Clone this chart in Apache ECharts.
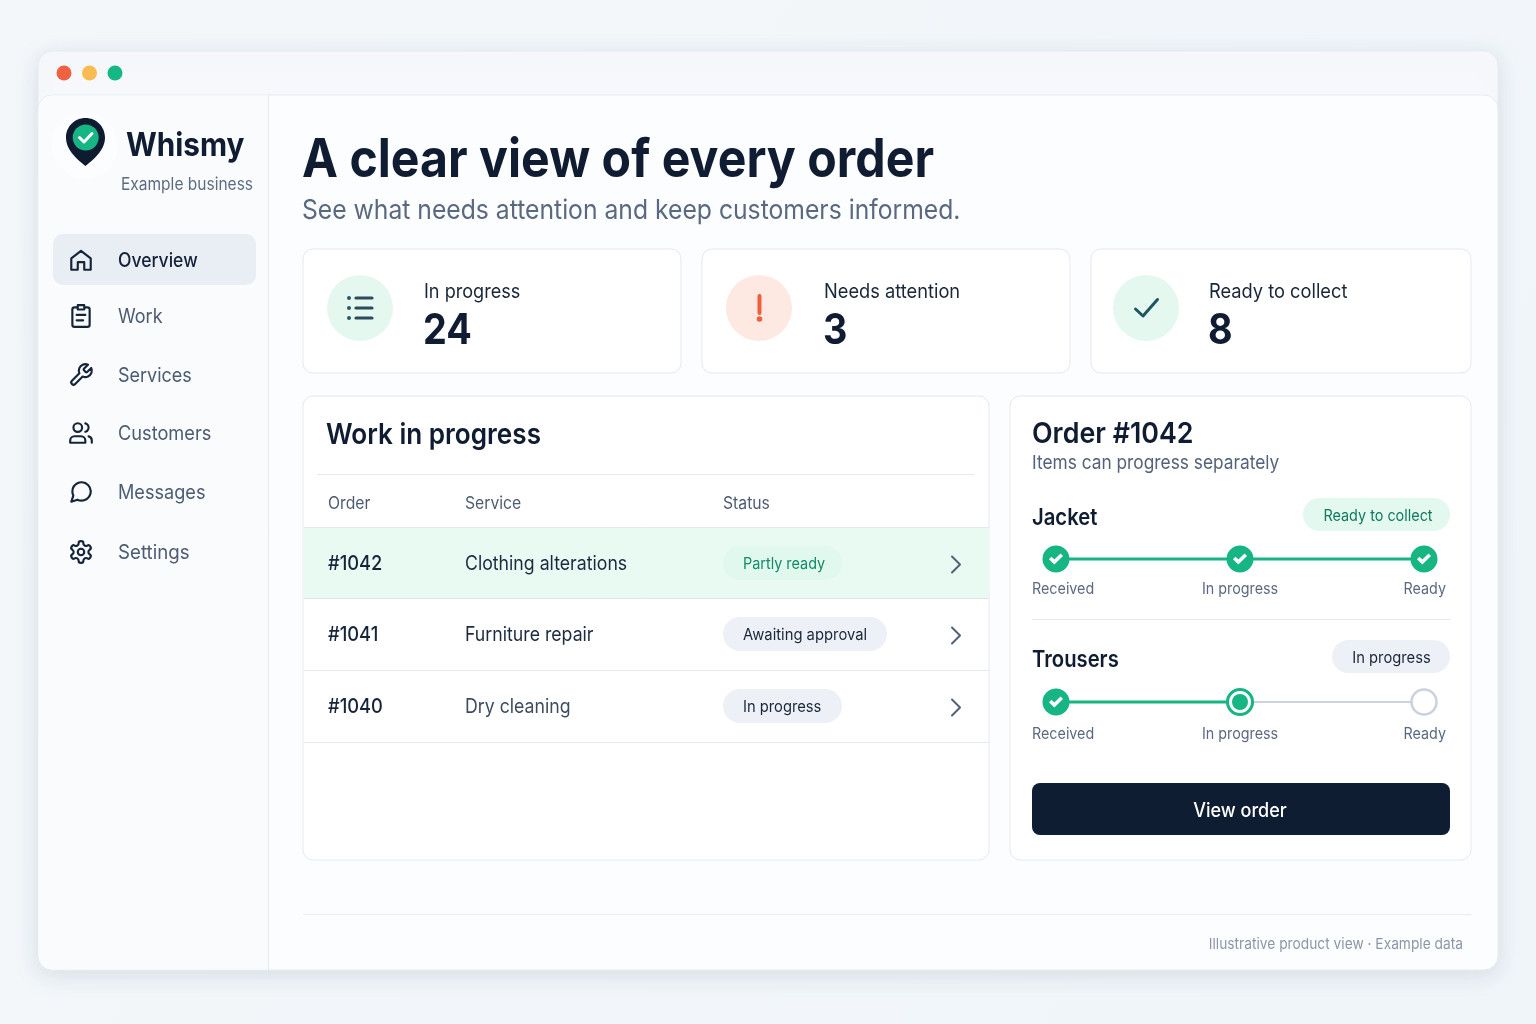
<!DOCTYPE html>
<html>
<head>
    <meta charset="utf-8">
    <title>Whismy</title>
    <style type="text/css">
        html,body{margin:0;padding:0;background:#f2f6fa;}
        #chart{width:1536px;height:1024px;}
    </style>
</head>
<body>
    <div id="chart"></div>
    <script src="https://cdn.jsdelivr.net/npm/echarts@6/dist/echarts.min.js" charset="utf-8"></script>
    <script type="text/javascript">
        // data
        var navItems = ['Overview','Work','Services','Customers','Messages','Settings'];
        var statLabels = ['In progress','Needs attention','Ready to collect'];
        var statValues = [24,3,8];
        var tableHeaders = ['Order','Service','Status'];
        var orderIds = ['#1042','#1041','#1040'];
        var orderServices = ['Clothing alterations','Furniture repair','Dry cleaning'];
        var orderStatuses = ['Partly ready','Awaiting approval','In progress'];
        var stepLabels = ['Received','In progress','Ready'];
        var stepPositions = [0,1,2];
        var jacketSteps = ['done','done','done'];
        var trouserSteps = ['done','active','todo'];

        var FONT = 'Inter, "Noto Sans", sans-serif';
        var INK = '#0f1c31', SLATE = '#4d5c73', GREEN = '#17b484';
        var LINE = '#e3e9f1';
        var els = [];
        var pathCount = 0;

        // graphic has no plain path type, so each svg path gets its own shape class
        function pathShape(d){
            var name = 'svgPath' + (pathCount++);
            echarts.graphic.registerShape(name,echarts.graphic.extendPath(d,{}));
            return name;
        }
        function rect(x,y,w,h,r,fill,stroke,extra){
            var style = {fill:fill,stroke:stroke||null,lineWidth:stroke?1:0};
            for(var k in extra){style[k]=extra[k];}
            els.push({type:'rect',silent:true,shape:{x:x,y:y,width:w,height:h,r:r},style:style});
        }
        // the reference type is set tighter than Inter, squeeze is the horizontal factor
        function txt(s,x,y,size,weight,color,align,squeeze){
            els.push({type:'text',silent:true,x:x,y:y,scaleX:squeeze||0.905,style:{text:s,x:0,y:0,fill:color,
                font:weight+' '+size+'px '+FONT,textAlign:align||'left',textVerticalAlign:'middle'}});
        }
        function hline(x1,x2,y,color){
            els.push({type:'line',silent:true,shape:{x1:x1,y1:y,x2:x2,y2:y},style:{stroke:color||LINE,lineWidth:1}});
        }
        function circle(x,y,r,fill){
            els.push({type:'circle',silent:true,shape:{cx:x,cy:y,r:r},style:{fill:fill}});
        }
        function icon(d,cx,cy,scale,color,width){
            els.push({type:pathShape(d),silent:true,x:cx-12*scale,y:cy-12*scale,scaleX:scale,scaleY:scale,
                style:{fill:'none',stroke:color,lineWidth:width,lineCap:'round',lineJoin:'round'}});
        }
        function poly(points,color,width){
            els.push({type:'polyline',silent:true,shape:{points:points},
                style:{fill:'none',stroke:color,lineWidth:width,lineCap:'round',lineJoin:'round'}});
        }

        // window shell
        rect(38,51,1460,919,14,'#f6f8fb','#e6ebf1',{shadowBlur:22,shadowColor:'rgba(120,140,165,0.22)',shadowOffsetY:5});
        rect(38,95,1460,875,14,'#fcfdfe','#e6ebf1');
        rect(38.5,95.5,230,874,[14,0,0,14],'#f9fbfd');
        els.push({type:'line',silent:true,shape:{x1:268.5,y1:95,x2:268.5,y2:970},style:{stroke:'#e3e9f1',lineWidth:1}});
        circle(64,73,7.5,'#ef6140');
        circle(89.5,73,7.5,'#f9bc50');
        circle(115,73,7.5,'#14b883');

        // logo
        circle(85,146,33,'#fcfdfe');
        els.push({type:pathShape('M85.5 118C74.6 118 66 126.6 66 137.5C66 151 79 160.5 85.5 166C92 160.5 105 151 105 137.5C105 126.6 96.4 118 85.5 118Z'),silent:true,style:{fill:'#0e1b30'}});
        circle(85.7,137.5,13,GREEN);
        poly([[79.5,137.5],[84,142],[92,133.5]],'#ffffff',3);
        txt('Whismy',126,146,33,700,INK,'left',0.9);
        txt('Example business',121,185,17,400,'#5d6b82','left',0.913);

        // sidebar
        var navY = [260,316,375,433,492,552];
        var navSqueeze = [0.878,0.9,0.9,0.91,0.906,0.935];
        var navIcons = [
            'M3 10.5 12 3.5l9 7V21h-6v-7H9v7H3z',
            'M9 4H6a2 2 0 0 0-2 2v14a2 2 0 0 0 2 2h12a2 2 0 0 0 2-2V6a2 2 0 0 0-2-2h-3M9 2h6v4H9zM8 11h8M8 16h6',
            'M14.7 6.3a1 1 0 0 0 0 1.4l1.6 1.6a1 1 0 0 0 1.4 0l3.77-3.77a6 6 0 0 1-7.94 7.94l-6.91 6.91a2.12 2.12 0 0 1-3-3l6.91-6.91a6 6 0 0 1 7.94-7.94l-3.76 3.76z',
            'M16 21v-2a4 4 0 0 0-4-4H6a4 4 0 0 0-4 4v2H16M9 3a4 4 0 1 0 0 8 4 4 0 0 0 0-8zM22 21v-2a4 4 0 0 0-3-3.87M16 3.13a4 4 0 0 1 0 7.75',
            'M21 11.5a8.38 8.38 0 0 1-.9 3.8 8.5 8.5 0 0 1-7.6 4.7 8.38 8.38 0 0 1-3.8-.9L3 21l1.9-5.7a8.38 8.38 0 0 1-.9-3.8 8.5 8.5 0 0 1 4.7-7.6 8.38 8.38 0 0 1 3.8-.9h.5a8.48 8.48 0 0 1 8 8v.5z',
            'M12.22 2h-.44a2 2 0 0 0-2 2v.18a2 2 0 0 1-1 1.73l-.43.25a2 2 0 0 1-2 0l-.15-.08a2 2 0 0 0-2.73.73l-.22.38a2 2 0 0 0 .73 2.73l.15.1a2 2 0 0 1 1 1.72v.51a2 2 0 0 1-1 1.74l-.15.09a2 2 0 0 0-.73 2.73l.22.38a2 2 0 0 0 2.73.73l.15-.08a2 2 0 0 1 2 0l.43.25a2 2 0 0 1 1 1.73V20a2 2 0 0 0 2 2h.44a2 2 0 0 0 2-2v-.18a2 2 0 0 1 1-1.73l.43-.25a2 2 0 0 1 2 0l.15.08a2 2 0 0 0 2.73-.73l.22-.39a2 2 0 0 0-.73-2.73l-.15-.08a2 2 0 0 1-1-1.74v-.5a2 2 0 0 1 1-1.74l.15-.09a2 2 0 0 0 .73-2.73l-.22-.38a2 2 0 0 0-2.73-.73l-.15.08a2 2 0 0 1-2 0l-.43-.25a2 2 0 0 1-1-1.73V4a2 2 0 0 0-2-2zM12 9a3 3 0 1 0 0 6 3 3 0 0 0 0-6z'
        ];
        rect(53,234,203,51,10,'#e9eef4');
        navItems.forEach(function(name,i){
            icon(navIcons[i],81,navY[i],1.08,'#16243a',2);
            txt(name,118,navY[i]+1,20,i===0?500:400,i===0?'#14233b':SLATE,'left',navSqueeze[i]);
        });

        // heading
        txt('A clear view of every order',302,161,54,700,INK,'left',0.893);
        txt('See what needs attention and keep customers informed.',302,211,27,400,'#5a6980','left',0.915);

        // stat cards
        var cardX = [303,702,1091], cardW = [378,368,380], circleX = [360,759,1146], labelX = [424,824,1209];
        var circleFill = ['#e4f8f0','#fde9e2','#e4f8f0'];
        var statSqueeze = [0.905,0.913,0.913];
        statLabels.forEach(function(name,i){
            rect(cardX[i],249,cardW[i],124,10,'#ffffff',LINE);
            circle(circleX[i],308,33,circleFill[i]);
            txt(name,labelX[i],292,20,400,'#1a2639','left',statSqueeze[i]);
            txt(String(statValues[i]),labelX[i]-1,331,42,700,INK,'left',0.9);
        });
        [298,308,318].forEach(function(y){
            circle(349,y,2,'#2b5a63');
            poly([[356,y],[372,y]],'#2f4a5c',3.2);
        });
        poly([[759.5,296],[759.5,313]],'#ee5f3a',4);
        circle(759.5,319,2.8,'#ee5f3a');
        poly([[1135.5,309],[1143,316],[1157.5,299.5]],'#1f5560',3);

        // work in progress table
        rect(303,396,686,464,10,'#ffffff',LINE);
        txt('Work in progress',326,435,29,600,INK,'left',0.9);
        hline(317,974,474.5);
        var colX = [328,465,723];
        tableHeaders.forEach(function(name,i){ txt(name,colX[i],504,17,400,SLATE,'left',0.925); });
        hline(304,989,527.5);
        rect(304,528,685,70,0,'#e9faf3');
        var rowY = [563,634,706], pillW = [119,164,119], pillSqueeze = [0.9,0.925,0.92];
        orderIds.forEach(function(id,i){
            var y = rowY[i];
            txt(id,colX[0],y+1,20,500,'#16243a','left',0.915);
            txt(orderServices[i],colX[1],y+1,20,400,i===2?'#3d4b61':'#1c2a40','left',0.885);
            rect(colX[2],y-17,pillW[i],34,17,i===0?'#e0f8ee':'#edf0f6');
            txt(orderStatuses[i],743,y+1,16,400,i===0?'#138a66':'#1a2639','left',pillSqueeze[i]);
            poly([[952,y-6.5],[960,y+1.5],[952,y+9.5]],'#536178',2);
            hline(304,989,y+(i===0?35.5:36.5),i===0?'#dde6ee':LINE);
        });

        // order detail
        rect(1010,396,461,464,10,'#ffffff',LINE);
        txt('Order #1042',1032,434,29,600,INK,'left',0.925);
        txt('Items can progress separately',1032,463,19,400,'#55637a','left',0.911);
        txt('Jacket',1032,518,23,600,INK,'left',0.88);
        rect(1303,498,147,33,16.5,'#e3f8ef');
        txt('Ready to collect',1378,516,16,400,'#12795e','center',0.9);
        hline(1032,1450,619.5);
        txt('Trousers',1032,660,23,600,INK,'left',0.88);
        rect(1332,640,118,33,16.5,'#edf0f6');
        txt('In progress',1391.5,658,16,400,'#1a2639','center',0.92);

        var stepAlign = ['left','center','right'], stepX = [1032,1240,1446];
        [589,734].forEach(function(y){
            stepLabels.forEach(function(name,i){
                txt(name,stepX[i],y,16,400,'#5b6980',stepAlign[i],0.895);
            });
        });
        rect(1032,783,418,52,8,'#0f1d33');
        txt('View order',1240,811,20,500,'#ffffff','center',0.9);

        // footer
        hline(303,1471,914.5,'#e9edf3');
        txt('Illustrative product view \u00b7 Example data',1463,944,15,400,'#8b97a8','right',0.917);

        // stepper rows go through the chart's own axes
        var CHECK = 'path://M1 8 L4 5 L7.5 8.5 L15 1 L18 4 L7.5 14.5 Z';
        function stepSeries(idx,steps){
            var pts = stepPositions.map(function(p){ return [p,0]; });
            var last = steps.lastIndexOf('active');
            if(last<0){ last = steps.lastIndexOf('done'); }
            var common = {xAxisIndex:idx,yAxisIndex:idx,silent:true,animation:false};
            function extend(o){ for(var k in common){o[k]=common[k];} return o; }
            var out = [];
            out.push(extend({type:'line',symbol:'none',z:2,clip:false,data:pts.slice(last),lineStyle:{color:'#cbd3df',width:2}}));
            out.push(extend({type:'line',symbol:'none',z:3,clip:false,data:pts.slice(0,last+1),lineStyle:{color:GREEN,width:3}}));
            out.push(extend({type:'scatter',z:4,clip:false,data:pts.map(function(pt,i){
                var s = steps[i];
                return {value:pt,symbolSize:s==='done'?27:25,itemStyle:s==='done'
                    ?{color:GREEN,opacity:1}
                    :{color:'#ffffff',opacity:1,borderWidth:s==='active'?3:2.5,borderColor:s==='active'?GREEN:'#c9d2de'}};
            })}));
            out.push(extend({type:'scatter',z:5,clip:false,symbol:CHECK,symbolSize:[14,11],itemStyle:{color:'#ffffff',opacity:1},
                data:pts.filter(function(pt,i){ return steps[i]==='done'; })}));
            out.push(extend({type:'scatter',z:5,clip:false,symbol:'circle',symbolSize:16,itemStyle:{color:GREEN,opacity:1},
                data:pts.filter(function(pt,i){ return steps[i]==='active'; })}));
            return out;
        }

        var chart = echarts.init(document.getElementById('chart'));
        chart.setOption({
            animation:false,
            backgroundColor:{type:'linear',x:0,y:0,x2:1,y2:1,colorStops:[{offset:0,color:'#f4f7fa'},{offset:1,color:'#f0f5f9'}]},
            graphic:{elements:els},
            grid:[
                {left:1056,width:368,top:549,height:20},
                {left:1056,width:368,top:692,height:20}
            ],
            xAxis:[
                {type:'value',gridIndex:0,min:0,max:2,show:false},
                {type:'value',gridIndex:1,min:0,max:2,show:false}
            ],
            yAxis:[
                {type:'value',gridIndex:0,min:-1,max:1,show:false},
                {type:'value',gridIndex:1,min:-1,max:1,show:false}
            ],
            series:stepSeries(0,jacketSteps).concat(stepSeries(1,trouserSteps))
        });
    </script>
</body>
</html>
